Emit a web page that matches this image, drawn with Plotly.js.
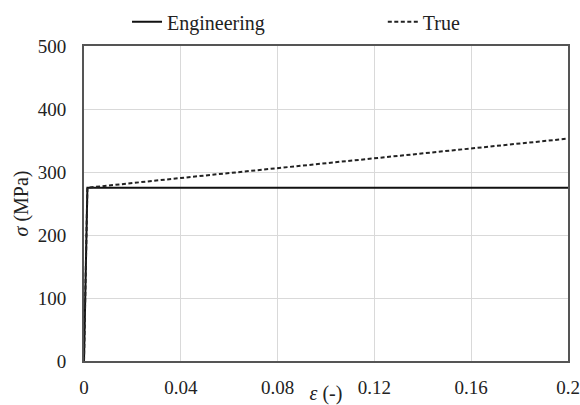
<!DOCTYPE html>
<html>
<head>
<meta charset="utf-8">
<script src="https://cdn.plot.ly/plotly-3.0.1.min.js"></script>
<style>html,body{margin:0;padding:0;background:#fff;}#chart{width:580px;height:405px;}</style>
</head>
<body>
<div id="chart"></div>
<script>
const engStrain = [0, 0.0014, 0.2];
const engStress = [0, 275, 275];
const trueStrain = [0, 0.0014, 0.04, 0.08, 0.12, 0.16, 0.2];
const trueStress = [0, 275, 290.5, 306, 322, 338, 353];
const xTicks = [0, 0.04, 0.08, 0.12, 0.16, 0.2];
const xTickLabels = ["0", "0.04", "0.08", "0.12", "0.16", "0.2"];
const yTicks = [0, 100, 200, 300, 400, 500];

const fam = "Liberation Serif, Times New Roman, serif";
const tickFont = {family: fam, size: 19, color: "#222"};
const textFont = {family: fam, size: 20, color: "#222"};

const traces = [
  {x: engStrain, y: engStress, type: "scatter", mode: "lines", name: "Engineering",
   legend: "legend", line: {color: "#111", width: 2}},
  {x: trueStrain, y: trueStress, type: "scatter", mode: "lines", name: "True",
   legend: "legend2", line: {color: "#222", width: 2, dash: "4px,2.5px"}}
];

const legendBase = {orientation: "h", xref: "container", yref: "container",
                    xanchor: "left", y: 0.946, yanchor: "middle",
                    font: textFont, bgcolor: "rgba(0,0,0,0)", itemwidth: 30};

const layout = {
  width: 580, height: 405,
  margin: {l: 84, r: 12, t: 46, b: 44},
  paper_bgcolor: "#fff", plot_bgcolor: "#fff",
  font: textFont,
  showlegend: true,
  legend: Object.assign({}, legendBase, {x: 0.219}),
  legend2: Object.assign({}, legendBase, {x: 0.660}),
  xaxis: {range: [0, 0.2], tickvals: xTicks, ticktext: xTickLabels,
          showgrid: true, gridcolor: "#d9d9d9", gridwidth: 1,
          showline: true, linecolor: "#555", linewidth: 2, mirror: true,
          ticks: "", zeroline: false, tickfont: tickFont, ticklabelstandoff: 8,
          title: {text: "<i>ε</i> (-)", font: textFont, standoff: 0}},
  yaxis: {range: [0, 500], tickvals: yTicks,
          showgrid: true, gridcolor: "#d9d9d9", gridwidth: 1,
          showline: true, linecolor: "#555", linewidth: 2, mirror: true,
          ticks: "", zeroline: false, tickfont: tickFont, ticklabelstandoff: 12,
          title: {text: "<i>σ</i> (MPa)", font: textFont, standoff: 4}}
};

Plotly.newPlot("chart", traces, layout, {displayModeBar: false, staticPlot: true});
</script>
</body>
</html>
